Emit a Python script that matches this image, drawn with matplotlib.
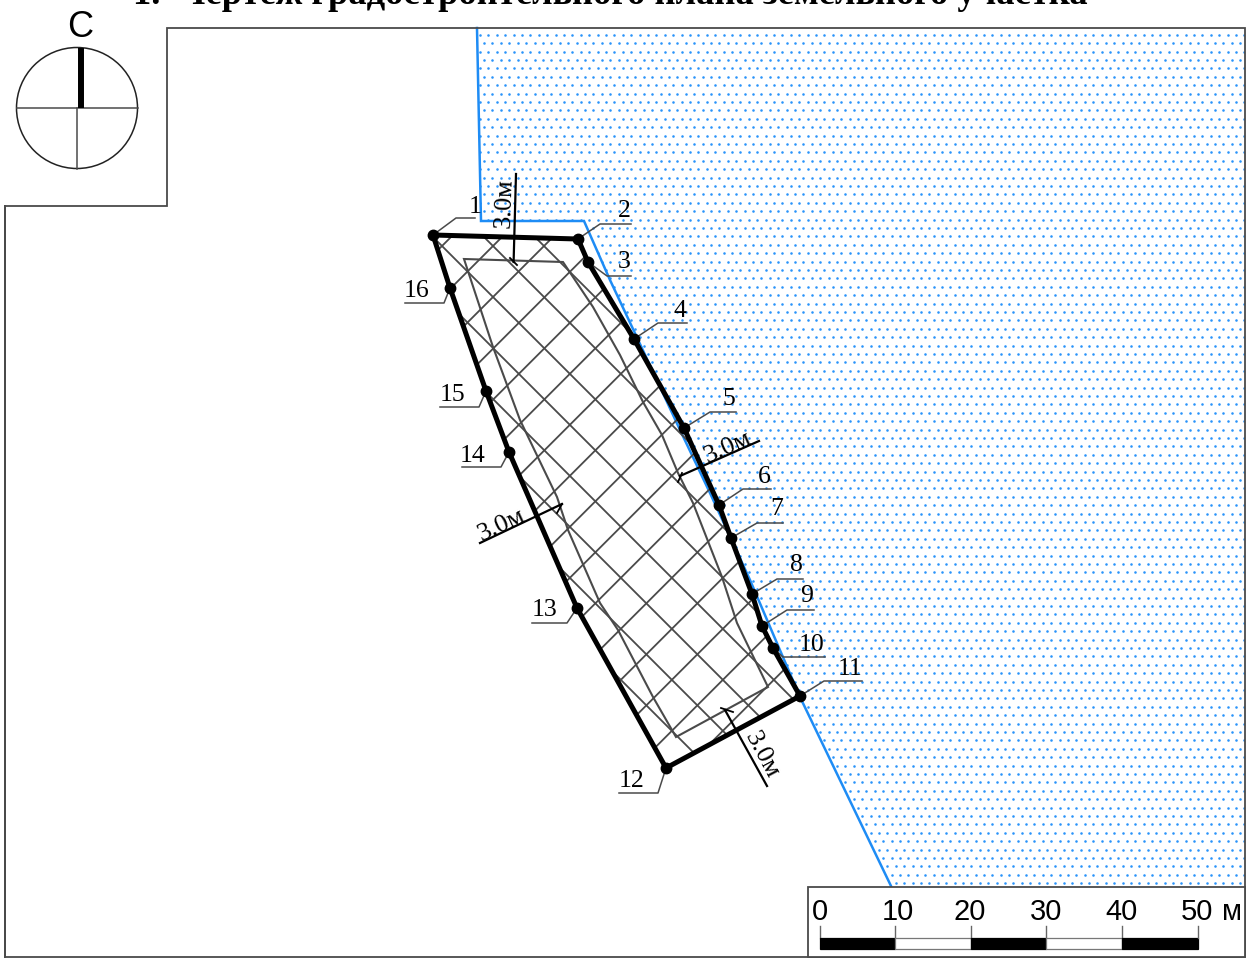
import numpy as np
import matplotlib
matplotlib.use("Agg")
import matplotlib.pyplot as plt
from matplotlib.patches import Polygon, Rectangle, Circle

# ---- data (pixel space of the drawing) ----
title = "1.  Чертеж градостроительного плана земельного участка"
parcel_x = [433, 578, 588, 634, 684, 719, 731, 752, 762, 773, 800, 666, 577, 509, 486, 450]
parcel_y = [235, 239, 262, 339, 428, 505, 538, 594, 626, 648, 696, 768, 608, 452, 391, 288]
point_names = ["1", "2", "3", "4", "5", "6", "7", "8", "9", "10", "11", "12", "13", "14", "15", "16"]
leader_x = [456, 600, 607, 658, 710, 743, 757, 777, 787, 783, 824, 658, 567, 501, 479, 444]
leader_y = [218, 224, 276, 323, 412, 489, 523, 579, 610, 657, 681, 793, 623, 467, 407, 303]
shelf_x = [475, 631, 631, 687, 736, 771, 783, 803, 814, 825, 862, 619, 532, 462, 440, 405]
text_x = [475, 624, 624, 680, 729, 764, 777, 796, 807, 812, 850, 632, 545, 473, 452, 417]
text_y = [207, 211, 262, 311, 399, 477, 509, 565, 596, 645, 669, 781, 610, 456, 395, 291]

inner_x = [464, 493, 520, 557, 568, 600, 618, 653, 676, 768, 737, 722, 693, 678, 662, 643, 620, 593, 563]
inner_y = [259, 347, 420, 497, 530, 603, 630, 697, 737, 687, 623, 577, 503, 473, 435, 402, 355, 307, 262]

blue_x = [477, 481, 584, 610, 633, 681, 710, 750, 800, 891]
blue_y = [28, 221, 221, 280, 329, 432, 493, 580, 697, 886]

frame_x = [5, 5, 167, 167, 1245, 1245, 5, 5]
frame_y = [957, 206, 206, 28, 28, 957, 957, 206]

hatch_down = [-59, -8, 43, 94, 145, 196, 247, 298]
hatch_up = [688, 739, 790, 841.7, 892.7, 943.7, 994.7, 1045.7, 1096.7, 1147.7, 1198.7,
            1249.7, 1300.7, 1351.7, 1402.7, 1453.7]

dim_x0 = [516, 759, 480, 767]
dim_y0 = [174, 441, 543, 786]
dim_x1 = [513.6, 680, 562, 725]
dim_y1 = [262, 476, 504, 710]
tick_x0 = [510, 678, 557, 721]
tick_y0 = [258, 482, 513, 708]
tick_x1 = [517, 682, 562, 733]
tick_y1 = [265, 473, 504, 712]
dim_label = "3.0м"
dim_text_x = [505, 728, 502, 762]
dim_text_y = [203, 447, 525, 755]
dim_rot = [88, 24, 25, -62]

scale_values = [0, 10, 20, 30, 40, 50]
scale_label_x = [820, 897.5, 970, 1046.5, 1122, 1197]

# ---- figure in reference pixel coordinates ----
fig = plt.figure(figsize=(12.53, 9.58), dpi=100)
ax = fig.add_axes([0, 0, 1, 1])
ax.set_xlim(0, 1253)
ax.set_ylim(958, 0)
ax.axis("off")

SERIF = "Liberation Serif"
SANS = "Liberation Sans"
GRAY = "#4a4a4a"
BLUE = "#1E8CF5"

ax.text(610, 4, title, family=SERIF, weight="bold", fontsize=26.3, ha="center", va="baseline", clip_on=False)

# dotted zone
zone = np.column_stack([blue_x + [1245, 1245], blue_y + [886, 28]])
clip_zone = Polygon(zone, closed=True, transform=ax.transData, fill=False, edgecolor="none")
ax.add_patch(clip_zone)
step = 8.4
rows = 34.7 + step * np.arange(-1, 102)
px, py = [], []
for i, yy in enumerate(rows):
    xs = 1000.7 - step * 62 + step * np.arange(0, 95) + (step / 2 if i % 2 == 0 else 0)
    px.extend(xs)
    py.extend([yy] * len(xs))
dots = ax.scatter(px, py, s=3.4, color="#2A94FA", linewidths=0, zorder=1)
dots.set_clip_path(clip_zone)
ax.plot(blue_x, blue_y, color=BLUE, lw=1.8, zorder=2, solid_joinstyle="miter")

# outer frame
ax.plot(frame_x, frame_y, color=GRAY, lw=1.3, zorder=3, solid_joinstyle="miter")

# hatch, clipped to the parcel
parcel = np.column_stack([parcel_x, parcel_y])
clip_parcel = Polygon(parcel, closed=True, transform=ax.transData, fill=False, edgecolor="none")
ax.add_patch(clip_parcel)
span = np.array([150.0, 900.0])
for c in hatch_down:
    ln, = ax.plot(span + c, span, color=GRAY, lw=1.3, zorder=4)
    ln.set_clip_path(clip_parcel)
for c in hatch_up:
    ln, = ax.plot(c - span, span, color=GRAY, lw=1.3, zorder=4)
    ln.set_clip_path(clip_parcel)

# inner polygon
ax.add_patch(Polygon(np.column_stack([inner_x, inner_y]), closed=True, fill=False,
                     edgecolor=GRAY, lw=1.5, zorder=4.5))

# parcel outline and nodes
ax.add_patch(Polygon(parcel, closed=True, fill=False, edgecolor="black", lw=3.6,
                     joinstyle="round", zorder=6))
ax.plot(parcel_x, parcel_y, ls="none", marker="o", ms=7.5, color="black", zorder=7)

# leaders with labels
for i, name in enumerate(point_names):
    ax.plot([parcel_x[i], leader_x[i], shelf_x[i]], [parcel_y[i], leader_y[i], leader_y[i]],
            color=GRAY, lw=1.1, zorder=5)
    ax.text(text_x[i], text_y[i], name, family=SERIF, fontsize=18.5, ha="center", va="center", zorder=8)

# dimension marks
for i in range(4):
    ax.plot([dim_x0[i], dim_x1[i]], [dim_y0[i], dim_y1[i]], color="black", lw=1.6, zorder=8)
    ax.plot([tick_x0[i], tick_x1[i]], [tick_y0[i], tick_y1[i]], color="black", lw=1.3, zorder=8)
    ax.text(dim_text_x[i], dim_text_y[i], dim_label, family=SERIF, fontsize=19, rotation=dim_rot[i],
            rotation_mode="anchor", ha="center", va="center", zorder=8)

# north sign
ax.add_patch(Circle((77, 108), 60.5, fill=False, edgecolor="#222222", lw=1.1, zorder=3))
ax.plot([16.5, 137.5], [108, 108], color=GRAY, lw=1.1, zorder=3)
ax.plot([77, 77], [108, 168.5], color=GRAY, lw=1.1, zorder=3)
ax.plot([80.5, 80.5], [48, 108], color="black", lw=4.3, solid_capstyle="butt", zorder=4)
ax.text(80, 27, "С", family=SANS, fontsize=26, ha="center", va="center")

# scale box
ax.add_patch(Rectangle((808, 887), 437, 70, facecolor="white", edgecolor=GRAY, lw=1.3, zorder=9))
x0, unit = 819.5, 7.56
for k, v in enumerate(scale_values):
    xx = x0 + unit * v
    ax.plot([xx, xx], [926, 938], color="#666666", lw=1.0, zorder=10)
    ax.text(scale_label_x[k], 919.5, str(v), family=SANS, fontsize=21, ha="center", va="baseline", zorder=10)
    if k < len(scale_values) - 1:
        ax.add_patch(Rectangle((xx, 938), unit * 10, 11,
                               facecolor="black" if k % 2 == 0 else "white",
                               edgecolor="black" if k % 2 == 0 else "#777777", lw=0.9, zorder=10))
ax.text(1232.5, 919.5, "м", family=SANS, fontsize=21, ha="center", va="baseline", zorder=10)

fig.savefig("out.png", dpi=100)
